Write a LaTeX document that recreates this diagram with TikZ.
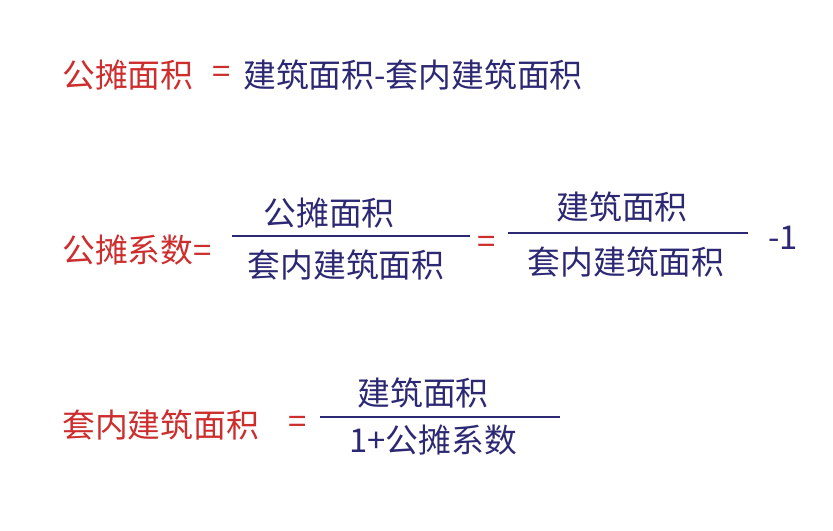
\documentclass[tikz,border=0pt]{standalone}
\usepackage{fontspec}
\newfontfamily\cjk{Noto Sans CJK SC}
\setmainfont{DejaVu Sans}
\definecolor{formred}{RGB}{205,45,45}
\definecolor{formblue}{RGB}{45,40,115}
\begin{document}
\begin{tikzpicture}[x=0.03cm, y=-0.03cm]
        \tikzstyle{txt}=[inner sep=0pt, font=\cjk\fontsize{28}{32}\selectfont]
        \tikzstyle{red}=[txt, text=formred]
        \tikzstyle{blue}=[txt, text=formblue]
        \tikzstyle{bar}=[formblue, line width=1.6pt]
        \useasboundingbox (0,0) rectangle (833,531);

        % First line
        \node[red, anchor=west] (sharearea) at (62,75) {公摊面积};
        \node[red] (eq1) at (222,75) {=};
        \node[blue, anchor=west] (diff) at (243,75) {建筑面积-套内建筑面积};

        % Second line
        \node[red, anchor=west] (ratio) at (62,250) {公摊系数=};
        \node[blue] (numa) at (329,213) {公摊面积};
        \node[blue] (dena) at (346,265) {套内建筑面积};
        \coordinate (bara1) at (232,236);
        \coordinate (bara2) at (470,236);
        \draw[bar] (bara1) -- (bara2);
        \node[red] (eq2) at (487,245) {=};
        \node[blue] (numb) at (622,207) {建筑面积};
        \node[blue] (denb) at (626,262) {套内建筑面积};
        \coordinate (barb1) at (508,233);
        \coordinate (barb2) at (748,233);
        \draw[bar] (barb1) -- (barb2);
        \node[blue] (minus) at (783,238) {-1};

        % Third line
        \node[red, anchor=west] (inner) at (62,425) {套内建筑面积};
        \node[red] (eq3) at (298,425) {=};
        \node[blue] (numc) at (423,393) {建筑面积};
        \node[blue] (denc) at (433,440) {1+公摊系数};
        \coordinate (barc1) at (320,417);
        \coordinate (barc2) at (560,417);
        \draw[bar] (barc1) -- (barc2);
    \end{tikzpicture}
\end{document}
